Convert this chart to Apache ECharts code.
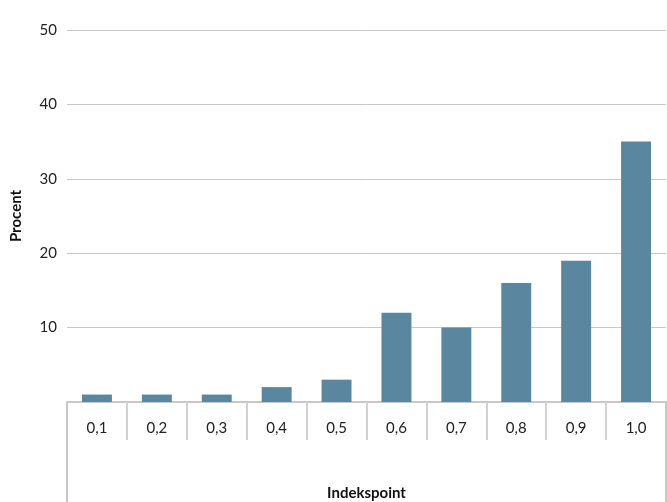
<!DOCTYPE html>
<html>
<head>
<meta charset="utf-8">
<script src="https://cdn.jsdelivr.net/npm/echarts@6/dist/echarts.min.js"></script>
<style>
  html, body { margin: 0; padding: 0; background: #fff; }
  #chart { width: 667px; height: 502px; }
</style>
</head>
<body>
<div id="chart"></div>
<script>
  // kategorier og værdier
  var categories = ['0,1', '0,2', '0,3', '0,4', '0,5', '0,6', '0,7', '0,8', '0,9', '1,0'];
  var values = [1, 1, 1, 2, 3, 12, 10, 16, 19, 35];
  var yMin = 0, yMax = 50, yStep = 10;

  var fontName = 'Lato';
  var chart = echarts.init(document.getElementById('chart'));

  chart.setOption({
    animation: false,
    grid: { left: 67, right: 1, top: 30, bottom: 100, outerBoundsMode: 'none', containLabel: false },
    xAxis: [
      {
        type: 'category',
        data: categories,
        position: 'bottom',
        axisLine: { show: true, lineStyle: { color: '#c8c8c8', width: 2 } },
        axisTick: { show: true, length: 38, lineStyle: { color: '#d2d2d2', width: 2 } },
        axisLabel: { margin: 19, color: '#222', fontSize: 15, fontFamily: fontName },
        name: 'Indekspoint',
        nameLocation: 'middle',
        nameGap: 84,
        nameTextStyle: { color: '#111', fontSize: 15, fontWeight: 'bold', fontFamily: fontName }
      },
      {
        // ydre kantlinjer ned til bunden
        type: 'category',
        data: [''],
        position: 'bottom',
        axisLine: { show: false },
        axisTick: { show: true, length: 100, lineStyle: { color: '#c8c8c8', width: 2 } },
        axisLabel: { show: false }
      }
    ],
    yAxis: {
      type: 'value',
      min: yMin,
      max: yMax,
      interval: yStep,
      axisLine: { show: false },
      axisTick: { show: false },
      axisLabel: { showMinLabel: false, margin: 10, padding: [0, 0, 5, 0], color: '#222', fontSize: 15, fontFamily: fontName },
      splitLine: { lineStyle: { color: '#c8c8c8', width: 1 } },
      name: 'Procent',
      nameLocation: 'middle',
      nameGap: 43,
      nameTextStyle: { color: '#111', fontSize: 15, fontWeight: 'bold', fontFamily: fontName }
    },
    series: [{
      type: 'bar',
      data: values,
      xAxisIndex: 0,
      barWidth: '50%',
      itemStyle: { color: '#5a879f' }
    }]
  });
</script>
</body>
</html>
